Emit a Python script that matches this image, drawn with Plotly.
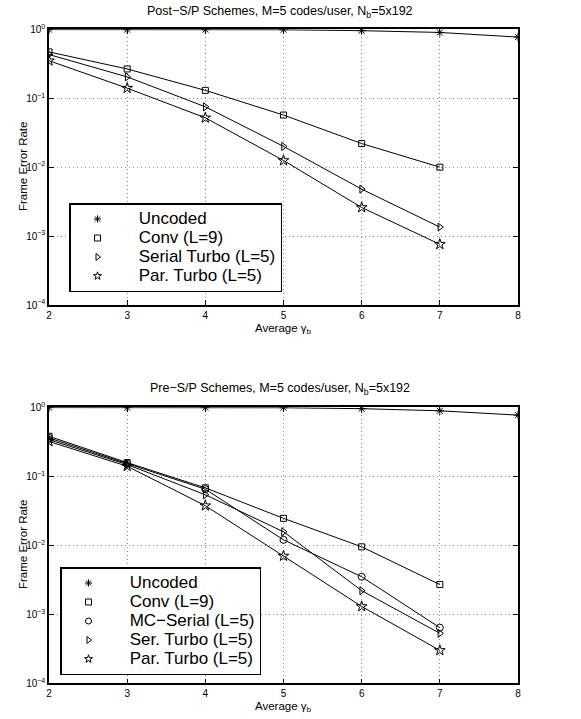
import plotly.graph_objects as go

# ---------------- data ----------------
gamma_b = [2, 3, 4, 5, 6, 7, 8]
gamma_coded = [2, 3, 4, 5, 6, 7]

# Top: Post-S/P schemes
post_uncoded = [0.99, 0.99, 0.99, 0.985, 0.955, 0.90, 0.77]
post_conv = [0.47, 0.266, 0.13, 0.057, 0.022, 0.010]
post_serial_turbo = [0.43, 0.204, 0.075, 0.020, 0.0048, 0.00135]
post_par_turbo = [0.35, 0.14, 0.052, 0.0125, 0.0026, 0.00076]

# Bottom: Pre-S/P schemes
pre_uncoded = [0.99, 0.99, 0.99, 0.985, 0.955, 0.89, 0.77]
pre_conv = [0.38, 0.158, 0.068, 0.0246, 0.0095, 0.0027]
pre_mc_serial = [0.36, 0.152, 0.065, 0.012, 0.0035, 0.00064]
pre_ser_turbo = [0.34, 0.148, 0.054, 0.0157, 0.0022, 0.00053]
pre_par_turbo = [0.32, 0.14, 0.0375, 0.007, 0.0013, 0.0003]

x_ticks = [2, 3, 4, 5, 6, 7, 8]
y_tickvals = [1e-4, 1e-3, 1e-2, 1e-1, 1]
y_ticktext = ["10<sup>−4</sup>", "10<sup>−3</sup>", "10<sup>−2</sup>", "10<sup>−1</sup>", "10<sup>0</sup>"]

title_top = "Post−S/P Schemes, M=5 codes/user, N<sub>b</sub>=5x192"
title_bot = "Pre−S/P Schemes, M=5 codes/user, N<sub>b</sub>=5x192"
xlabel = "Average γ<sub>b</sub>"
ylabel = "Frame Error Rate"

top_series = [
    ("Uncoded", gamma_b, post_uncoded, "asterisk-open", 7),
    ("Conv (L=9)", gamma_coded, post_conv, "square-open", 6),
    ("Serial Turbo (L=5)", gamma_coded, post_serial_turbo, "triangle-right-open", 7),
    ("Par. Turbo (L=5)", gamma_coded, post_par_turbo, "star-open", 8),
]
bot_series = [
    ("Uncoded", gamma_b, pre_uncoded, "asterisk-open", 7),
    ("Conv (L=9)", gamma_coded, pre_conv, "square-open", 6),
    ("MC−Serial (L=5)", gamma_coded, pre_mc_serial, "circle-open", 7),
    ("Ser. Turbo (L=5)", gamma_coded, pre_ser_turbo, "triangle-right-open", 7),
    ("Par. Turbo (L=5)", gamma_coded, pre_par_turbo, "star-open", 8),
]

W, H = 581, 719
FONT = "Liberation Sans, Arial, Helvetica, sans-serif"
PAD = "\u00a0" * 3

fig = go.Figure()

def add_panel(series, xa, ya, legend_name):
    for name, xs, ys, sym, sz in series:
        fig.add_trace(go.Scatter(
            x=xs, y=ys, mode="lines+markers", name=name,
            xaxis=xa, yaxis=ya, showlegend=False,
            line=dict(color="black", width=1),
            marker=dict(symbol=sym, size=sz, color="black",
                        line=dict(color="black", width=1)),
        ))
    for name, xs, ys, sym, sz in series:
        fig.add_trace(go.Scatter(
            x=[None], y=[None], mode="markers",
            name='<span style="font-size:17px">' + PAD + name + "</span>",
            xaxis=xa, yaxis=ya, showlegend=True, legend=legend_name,
            marker=dict(symbol=sym, size=6, color="black",
                        line=dict(color="black", width=1)),
        ))

add_panel(top_series, "x", "y", "legend")
add_panel(bot_series, "x2", "y2", "legend2")

xdom = [49 / W, 518 / W]
ydom_top = [1 - 305 / H, 1 - 29.3 / H]
ydom_bot = [1 - 683.3 / H, 1 - 407.3 / H]

axis_common = dict(
    showline=True, linecolor="black", linewidth=1.5, mirror="ticks",
    ticks="inside", ticklen=5, tickcolor="black", tickwidth=1,
    showgrid=True, gridcolor="#8a8a8a", griddash="1px,3px", gridwidth=1,
    zeroline=False, automargin=False,
    tickfont=dict(size=10, color="black", family=FONT),
)

xaxis_cfg = dict(axis_common, range=[2, 8], tickvals=x_ticks, domain=xdom)
yaxis_cfg = dict(axis_common, type="log", range=[-4, 0], tickvals=y_tickvals,
                 ticktext=y_ticktext)

legend_common = dict(xanchor="left", yanchor="top",
                     bordercolor="black", borderwidth=1.5, bgcolor="white",
                     font=dict(size=11.5, color="black", family=FONT),
                     itemwidth=44, tracegroupgap=0)

lab_font = dict(size=11.5, color="black", family=FONT)
title_font = dict(size=12.5, color="black", family=FONT)

def ann(text, x, y, font, angle=0):
    return dict(text=text, x=x / W, y=1 - y / H, xref="paper", yref="paper",
                showarrow=False, xanchor="center", yanchor="middle",
                font=font, textangle=angle)

fig.update_layout(
    width=W, height=H,
    margin=dict(l=0, r=0, t=0, b=0, autoexpand=False),
    paper_bgcolor="white", plot_bgcolor="white",
    font=dict(family=FONT, color="black"),
    xaxis=dict(xaxis_cfg, anchor="y"),
    yaxis=dict(yaxis_cfg, domain=ydom_top, anchor="x"),
    xaxis2=dict(xaxis_cfg, anchor="y2"),
    yaxis2=dict(yaxis_cfg, domain=ydom_bot, anchor="x2"),
    legend=dict(legend_common, x=69 / W, y=1 - 203 / H),
    legend2=dict(legend_common, x=60 / W, y=1 - 567 / H),
    annotations=[
        ann(title_top, 280, 12, title_font),
        ann(title_bot, 280, 389, title_font),
        ann(xlabel, 283.5, 329, lab_font),
        ann(xlabel, 283.5, 707, lab_font),
        ann(ylabel, 23, 167, lab_font, -90),
        ann(ylabel, 23, 545, lab_font, -90),
    ],
)

fig.write_html("out.html", config={"displayModeBar": False},
               post_script="document.body.style.margin='0px';")
